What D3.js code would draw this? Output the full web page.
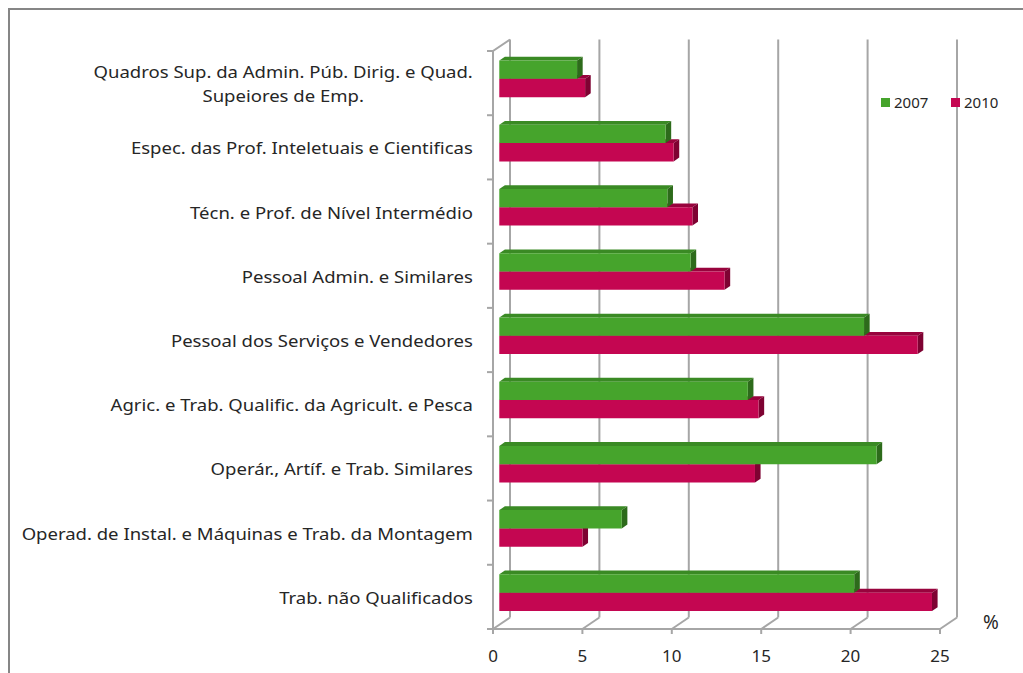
<!DOCTYPE html>
<html><head><meta charset="utf-8">
<script src="https://cdn.jsdelivr.net/npm/d3@7"></script>
<style>body{margin:0;background:#fff}svg{display:block}</style>
</head><body>
<script>
const categories = [
  ["Quadros Sup. da Admin. Púb. Dirig. e Quad.", "Supeiores de Emp."],
  ["Espec. das Prof. Inteletuais e Cientificas"],
  ["Técn. e Prof. de Nível Intermédio"],
  ["Pessoal Admin. e Similares"],
  ["Pessoal dos Serviços e Vendedores"],
  ["Agric. e Trab. Qualific. da Agricult. e Pesca"],
  ["Operár., Artíf. e Trab. Similares"],
  ["Operad. de Instal. e Máquinas e Trab. da Montagem"],
  ["Trab. não Qualificados"]
];
const seriesNames = ["2007", "2010"];
const values2007 = [4.35, 9.3, 9.4, 10.7, 20.4, 13.9, 21.1, 6.85, 19.85];
const values2010 = [4.8, 9.75, 10.8, 12.6, 23.4, 14.5, 14.3, 4.65, 24.2];
const xTicks = [0, 5, 10, 15, 20, 25];

const W = 1023, H = 673;
const svg = d3.select("body").append("svg").attr("width", W).attr("height", H);
const font = "'Noto Sans', 'Open Sans', sans-serif";
const textColor = "#262626";

// frame
svg.append("path").attr("d", `M9,${H} L9,9 L${W},9`).attr("fill","none").attr("stroke","#868686").attr("stroke-width",2);

const keys = categories.map((c,i)=>i);
const x = d3.scaleLinear().domain([0,25]).range([493, 940]);
const y = d3.scaleBand().domain(keys).range([51, 629]).paddingInner(0.43).paddingOuter(0.215);
const ySub = d3.scaleBand().domain(seriesNames).range([0, y.bandwidth()]);
const DX = 17, DY = 11.5;
const P = (v, yy, z) => [x(v) + z*DX, yy - z*DY];
const yTop = 51, yBot = 629;

const grid = svg.append("g").attr("stroke","#a6a6a6").attr("stroke-width",2).attr("fill","none");
xTicks.forEach(t=>{
  const a = P(t, yBot, 1), b = P(t, yTop, 1);
  grid.append("line").attr("x1",a[0]).attr("y1",a[1]).attr("x2",b[0]).attr("y2",b[1]);
  const f = P(t, yBot, 0);
  grid.append("line").attr("x1",f[0]).attr("y1",f[1]).attr("x2",a[0]).attr("y2",a[1]);
  grid.append("line").attr("x1",f[0]).attr("y1",f[1]).attr("x2",f[0]).attr("y2",f[1]+5);
});
{
  const a = P(0, yBot, 0), b = P(0, yTop, 0), c = P(0, yTop, 1);
  grid.append("path").attr("d", `M${a[0]},${a[1]} L${b[0]},${b[1]} L${c[0]},${c[1]}`);
  const e = P(25, yBot, 0);
  grid.append("line").attr("x1",a[0]).attr("y1",a[1]).attr("x2",e[0]).attr("y2",e[1]);
  const bounds = keys.map(k=>y(k) - y.step()*y.paddingOuter()).concat([yBot]);
  bounds.forEach(by=>{
    grid.append("line").attr("x1",a[0]-6).attr("y1",by).attr("x2",a[0]).attr("y2",by);
  });
}

const colors = {
  "2007": {front:"#46a42c", top:"#3a8a24", side:"#2d6b1b"},
  "2010": {front:"#c40651", top:"#98033d", side:"#7e0232"}
};
const z0 = 0.37, z1 = 0.70;
const barsG = svg.append("g");
keys.forEach(k=>{
  const vals = {"2007": values2007[k], "2010": values2010[k]};
  ["2010","2007"].forEach(s=>{
    const v = vals[s];
    const t = y(k) + ySub(s), b = t + ySub.bandwidth();
    const c = colors[s];
    const f1 = P(0,t,z0), f2 = P(v,t,z0), f3 = P(v,b,z0), f4 = P(0,b,z0);
    const k1 = P(0,t,z1), k2 = P(v,t,z1), k3 = P(v,b,z1);
    const g = barsG.append("g");
    g.append("polygon").attr("points",[f1,k1,k2,f2].map(p=>p.join(",")).join(" ")).attr("fill",c.top);
    g.append("polygon").attr("points",[f2,k2,k3,f3].map(p=>p.join(",")).join(" ")).attr("fill",c.side);
    g.append("polygon").attr("points",[f1,f2,f3,f4].map(p=>p.join(",")).join(" ")).attr("fill",c.front);
  });
});

// category labels
const sx = 1.09;
const lab = svg.append("g").attr("font-family",font).attr("font-size",17).attr("fill",textColor);
keys.forEach(k=>{
  const lines = categories[k];
  const cy = y(k) + y.bandwidth()/2 + 1;
  const lh = 24;
  const tEl = lab.append("text").attr("text-anchor","middle");
  lines.forEach((l,i)=>{
    tEl.append("tspan").attr("x",0).attr("y", cy + (i-(lines.length-1)/2)*lh).attr("dy","0.35em").text(l);
  });
  const w = tEl.node().getBBox().width * sx;
  tEl.attr("transform",`translate(${473 - w/2},0) scale(${sx},1)`);
});

const xl = svg.append("g").attr("font-family",font).attr("font-size",17).attr("fill",textColor).attr("text-anchor","middle");
xTicks.forEach(t=>{
  xl.append("text").attr("x",x(t)).attr("y",656).attr("dy","0.35em").text(t);
});
svg.append("text").attr("x",991).attr("y",622).attr("dy","0.35em").attr("text-anchor","middle")
  .attr("font-family",font).attr("font-size",19).attr("fill",textColor).text("%");

const leg = svg.append("g").attr("font-family",font).attr("font-size",15).attr("fill",textColor);
const legX = [881, 951];
seriesNames.forEach((s,i)=>{
  leg.append("rect").attr("x",legX[i]).attr("y",98).attr("width",9).attr("height",9).attr("fill",colors[s].front);
  leg.append("text").attr("x",legX[i]+13).attr("y",103).attr("dy","0.35em").text(s);
});
</script>
</body></html>
